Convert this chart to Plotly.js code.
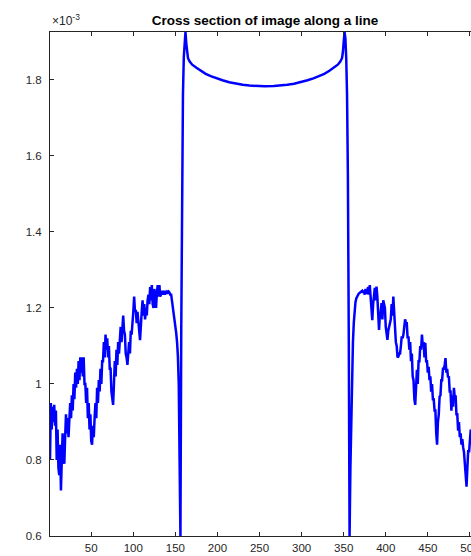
<!DOCTYPE html>
<html>
<head>
<meta charset="utf-8">
<script src="https://cdn.plot.ly/plotly-3.0.1.min.js"></script>
<style>
html, body { margin: 0; padding: 0; overflow: hidden; background: #ffffff; }
#chart { width: 500px; height: 556px; }
</style>
</head>
<body>
<div id="chart"></div>
<script>
// Pixel position along the line (sample index)
const leftPos = [];
for (let i = 1; i <= 162; i++) leftPos.push(i);
// Intensity (x 10^-3) for samples 1..162
const leftVal = [
  0.80, 0.95, 0.88, 0.94, 0.90, 0.945, 0.89, 0.93, 0.80, 0.88,
  0.78, 0.76, 0.84, 0.72, 0.80, 0.87, 0.80, 0.79, 0.86, 0.92,
  0.87, 0.91, 0.86, 0.90, 0.95, 0.91, 0.97, 0.93, 1.00, 0.96,
  1.03, 0.99, 1.04, 1.00, 1.06, 1.01, 1.07, 1.03, 1.07, 1.02,
  1.07, 1.00, 1.00, 0.95, 0.99, 0.91, 0.95, 0.88, 0.92, 0.85,
  0.84, 0.89, 0.86, 0.91, 0.95, 0.91, 0.99, 0.95, 1.01, 0.98,
  1.04, 1.00, 1.06, 1.06, 1.11, 1.07, 1.13, 1.09, 1.12, 1.07,
  1.10, 1.04, 1.04, 0.98, 0.96, 0.945, 1.00, 1.06, 1.02, 1.09,
  1.05, 1.11, 1.08, 1.13, 1.15, 1.11, 1.17, 1.18, 1.14, 1.13,
  1.08, 1.07, 1.05, 1.09, 1.11, 1.08, 1.14, 1.13, 1.18, 1.19,
  1.23, 1.19, 1.195, 1.16, 1.19, 1.15, 1.14, 1.115, 1.17, 1.19,
  1.22, 1.18, 1.21, 1.17, 1.20, 1.18, 1.22, 1.235, 1.21, 1.255,
  1.22, 1.26, 1.21, 1.20, 1.25, 1.21, 1.20, 1.24, 1.26, 1.23,
  1.26, 1.23, 1.24, 1.245, 1.235, 1.245, 1.235, 1.245, 1.24, 1.243,
  1.24, 1.243, 1.24, 1.235, 1.235, 1.22, 1.20, 1.19, 1.177, 1.16,
  1.134, 1.11, 1.072, 1.00, 0.80, 0.60, 1.15, 1.55, 1.76, 1.86,
  1.91, 1.926
];
// Central plateau (sparse samples)
const midPos = [163, 164, 165, 167, 170, 175, 180, 186, 192, 199, 206, 214, 222, 230, 238, 246, 256,
                267, 275, 283, 291, 299, 307, 314, 321, 327, 333, 338, 343, 346, 348, 349, 350];
const midVal = [1.895, 1.872, 1.857, 1.848, 1.840, 1.832, 1.824, 1.816, 1.810, 1.804, 1.799, 1.794, 1.790, 1.787, 1.785, 1.784, 1.783,
                1.784, 1.785, 1.787, 1.790, 1.794, 1.799, 1.804, 1.810, 1.816, 1.824, 1.832, 1.840, 1.848, 1.857, 1.872, 1.895];
// Right part, samples 351..512
const rightPos = [];
for (let i = 351; i <= 512; i++) rightPos.push(i);
const rightVal = [
  1.926, 1.91, 1.86, 1.76, 1.55, 1.15, 0.60, 0.78, 0.93, 1.04,
  1.11, 1.16, 1.20, 1.215, 1.225, 1.232, 1.234, 1.238, 1.24, 1.242,
  1.243, 1.245, 1.24, 1.246, 1.235, 1.25, 1.237, 1.24, 1.255, 1.235,
  1.26, 1.22, 1.20, 1.168, 1.21, 1.23, 1.253, 1.22, 1.256, 1.23,
  1.19, 1.142, 1.18, 1.19, 1.213, 1.17, 1.22, 1.21, 1.20, 1.15,
  1.13, 1.116, 1.14, 1.15, 1.168, 1.17, 1.21, 1.18, 1.23, 1.17,
  1.15, 1.11, 1.10, 1.07, 1.072, 1.08, 1.08, 1.10, 1.125, 1.12,
  1.13, 1.15, 1.17, 1.16, 1.16, 1.12, 1.125, 1.09, 1.11, 1.06,
  1.08, 1.02, 1.01, 0.96, 0.945, 0.99, 1.037, 1.00, 1.06, 1.06,
  1.10, 1.09, 1.13, 1.10, 1.11, 1.07, 1.108, 1.06, 1.06, 1.03,
  1.045, 1.01, 1.02, 0.98, 1.00, 0.96, 0.96, 0.93, 0.93, 0.87,
  0.84, 0.90, 0.92, 0.967, 0.97, 1.01, 1.01, 1.04, 1.04, 1.05,
  1.068, 1.03, 1.04, 1.017, 1.02, 0.98, 0.98, 0.93, 0.97, 0.94,
  0.99, 0.965, 0.97, 0.92, 0.92, 0.877, 0.90, 0.86, 0.87, 0.84,
  0.855, 0.833, 0.82, 0.79, 0.76, 0.73, 0.78, 0.826, 0.82, 0.86,
  0.88, 0.85, 0.90, 0.87, 0.92, 0.89, 0.93, 0.90, 0.94, 0.85,
  0.92, 0.82
];

const xTicks = [50, 100, 150, 200, 250, 300, 350, 400, 450, 500];
const yTicks = [0.6, 0.8, 1.0, 1.2, 1.4, 1.6, 1.8];
const yTickText = ['0.6', '0.8', '1', '1.2', '1.4', '1.6', '1.8'];

const xs = leftPos.concat(midPos, rightPos);
const ys = leftVal.concat(midVal, rightVal);

const axisColor = '#262626';
const fontFam = 'Liberation Sans, Arial, sans-serif';
const trace = {
  x: xs, y: ys, type: 'scatter', mode: 'lines',
  line: { color: '#0000ff', width: 2.5 },
  hoverinfo: 'skip'
};

const layout = {
  width: 500, height: 556,
  margin: { l: 50, r: 20, t: 32, b: 20 },
  paper_bgcolor: '#ffffff', plot_bgcolor: '#ffffff',
  showlegend: false,
  font: { family: fontFam, size: 12, color: axisColor },
  title: {
    text: '<b>Cross section of image along a line</b>',
    font: { family: fontFam, size: 13.5, color: '#000000' },
    x: 0.5, xref: 'paper', xanchor: 'center',
    y: 1 - 20 / 556, yref: 'container', yanchor: 'middle'
  },
  xaxis: {
    range: [1, 512], tickvals: xTicks, ticktext: xTicks.map(String),
    ticks: 'inside', ticklen: 4, tickcolor: axisColor, tickwidth: 1,
    showline: true, linecolor: axisColor, linewidth: 1, mirror: 'ticks',
    showgrid: false, zeroline: false, ticklabelstandoff: 1,
    tickfont: { family: fontFam, size: 11.5, color: axisColor }
  },
  yaxis: {
    range: [0.6, 1.926], tickvals: yTicks, ticktext: yTickText,
    ticks: 'inside', ticklen: 4, tickcolor: axisColor, tickwidth: 1,
    showline: true, linecolor: axisColor, linewidth: 1, mirror: 'ticks',
    showgrid: false, zeroline: false, ticklabelstandoff: 5,
    tickfont: { family: fontFam, size: 11.5, color: axisColor }
  },
  annotations: [{
    text: '\u00d710<sup>-3</sup>', xref: 'paper', yref: 'paper',
    x: 0, y: 1, xanchor: 'left', yanchor: 'bottom', yshift: 2, showarrow: false,
    font: { family: fontFam, size: 12, color: axisColor }
  }]
};

Plotly.newPlot('chart', [trace], layout, { displayModeBar: false, staticPlot: true });
</script>
</body>
</html>
